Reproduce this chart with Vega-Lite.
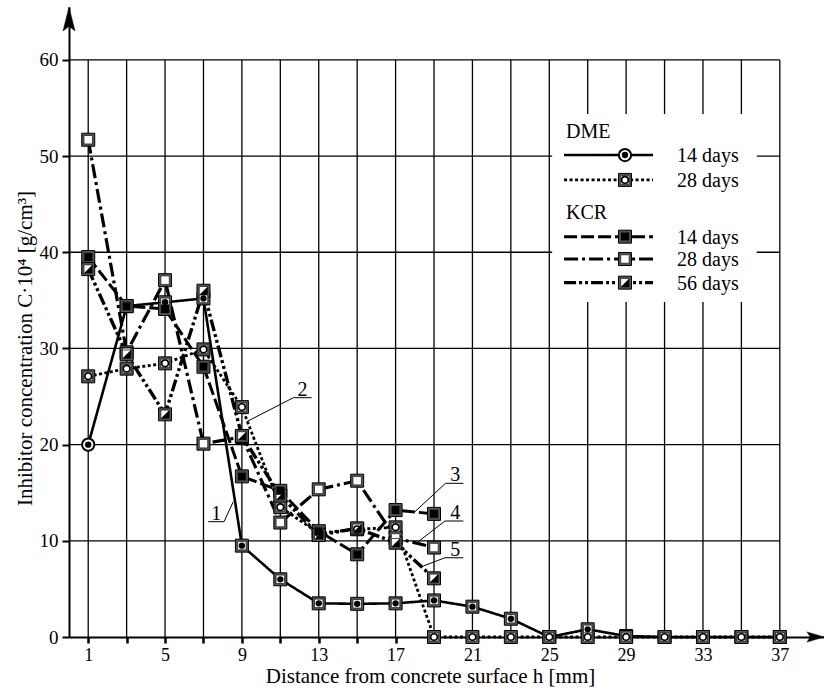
{
  "$schema": "https://vega.github.io/schema/vega-lite/v6.json",
  "width": 755,
  "height": 630,
  "autosize": {"type": "none"},
  "padding": {"left": 69, "top": 7, "right": 0, "bottom": 62},
  "background": "white",
  "config": {
    "font": "Liberation Serif",
    "view": {"stroke": null},
    "text": {"font": "Liberation Serif", "color": "black"}
  },
  "datasets": {
    "pts": [
      {"s": "DME14", "h": 1, "c": 20}, {"s": "DME14", "h": 3, "c": 34.4}, {"s": "DME14", "h": 5, "c": 34.8}, {"s": "DME14", "h": 7, "c": 35.2},
      {"s": "DME14", "h": 9, "c": 9.5}, {"s": "DME14", "h": 11, "c": 6.0}, {"s": "DME14", "h": 13, "c": 3.5}, {"s": "DME14", "h": 15, "c": 3.45},
      {"s": "DME14", "h": 17, "c": 3.5}, {"s": "DME14", "h": 19, "c": 3.8}, {"s": "DME14", "h": 21, "c": 3.15}, {"s": "DME14", "h": 23, "c": 1.9},
      {"s": "DME14", "h": 25, "c": 0}, {"s": "DME14", "h": 27, "c": 0.8}, {"s": "DME14", "h": 29, "c": 0.1}, {"s": "DME14", "h": 31, "c": 0},
      {"s": "DME14", "h": 33, "c": 0}, {"s": "DME14", "h": 35, "c": 0}, {"s": "DME14", "h": 37, "c": 0},
      {"s": "DME28", "h": 1, "c": 27.1}, {"s": "DME28", "h": 3, "c": 27.9}, {"s": "DME28", "h": 5, "c": 28.45}, {"s": "DME28", "h": 7, "c": 29.9},
      {"s": "DME28", "h": 9, "c": 23.9}, {"s": "DME28", "h": 11, "c": 13.5}, {"s": "DME28", "h": 13, "c": 10.8}, {"s": "DME28", "h": 15, "c": 11.2},
      {"s": "DME28", "h": 17, "c": 11.4}, {"s": "DME28", "h": 19, "c": 0}, {"s": "DME28", "h": 21, "c": 0}, {"s": "DME28", "h": 23, "c": 0},
      {"s": "DME28", "h": 25, "c": 0}, {"s": "DME28", "h": 27, "c": 0}, {"s": "DME28", "h": 29, "c": 0}, {"s": "DME28", "h": 31, "c": 0},
      {"s": "DME28", "h": 33, "c": 0}, {"s": "DME28", "h": 35, "c": 0}, {"s": "DME28", "h": 37, "c": 0},
      {"s": "KCR14", "h": 1, "c": 39.5}, {"s": "KCR14", "h": 3, "c": 34.4}, {"s": "KCR14", "h": 5, "c": 34.1}, {"s": "KCR14", "h": 7, "c": 28.1},
      {"s": "KCR14", "h": 9, "c": 16.7}, {"s": "KCR14", "h": 11, "c": 15.2}, {"s": "KCR14", "h": 13, "c": 11.0}, {"s": "KCR14", "h": 15, "c": 8.6},
      {"s": "KCR14", "h": 17, "c": 13.2}, {"s": "KCR14", "h": 19, "c": 12.8},
      {"s": "KCR28", "h": 1, "c": 51.7}, {"s": "KCR28", "h": 3, "c": 29.6}, {"s": "KCR28", "h": 5, "c": 37.1}, {"s": "KCR28", "h": 7, "c": 20.1},
      {"s": "KCR28", "h": 9, "c": 20.8}, {"s": "KCR28", "h": 11, "c": 11.9}, {"s": "KCR28", "h": 13, "c": 15.35}, {"s": "KCR28", "h": 15, "c": 16.25},
      {"s": "KCR28", "h": 17, "c": 10.3}, {"s": "KCR28", "h": 19, "c": 9.3},
      {"s": "KCR56", "h": 1, "c": 38.25}, {"s": "KCR56", "h": 3, "c": 29.4}, {"s": "KCR56", "h": 5, "c": 23.15}, {"s": "KCR56", "h": 7, "c": 36.0},
      {"s": "KCR56", "h": 9, "c": 20.9}, {"s": "KCR56", "h": 11, "c": 14.7}, {"s": "KCR56", "h": 13, "c": 10.6}, {"s": "KCR56", "h": 15, "c": 11.3},
      {"s": "KCR56", "h": 17, "c": 9.8}, {"s": "KCR56", "h": 19, "c": 6.1}
    ],
    "vgrid": [{"h": 1}, {"h": 3}, {"h": 5}, {"h": 7}, {"h": 9}, {"h": 11}, {"h": 13}, {"h": 15}, {"h": 17}, {"h": 19}, {"h": 21}, {"h": 23}, {"h": 25}, {"h": 27}, {"h": 29}, {"h": 31}, {"h": 33}, {"h": 35}, {"h": 37}],
    "hgrid": [{"c": 10}, {"c": 20}, {"c": 30}, {"c": 40}, {"c": 50}, {"c": 60}],
    "legend": [
      {"s": "DME14", "label": "14 days", "ly": 50.11},
      {"s": "DME28", "label": "28 days", "ly": 47.52},
      {"s": "KCR14", "label": "14 days", "ly": 41.62},
      {"s": "KCR28", "label": "28 days", "ly": 39.3},
      {"s": "KCR56", "label": "56 days", "ly": 36.84}
    ],
    "heads": [{"t": "DME", "ly": 52.6}, {"t": "KCR", "ly": 44.22}],
    "callouts": [
      {"n": "1", "x1": 7.25, "x2": 8.07, "tx": 7.66, "y": 11.99, "ax": 8.07, "ex": 8.55, "ey": 14.07},
      {"n": "2", "x1": 11.68, "x2": 12.63, "tx": 12.15, "y": 24.88, "ax": 11.68, "ex": 9.25, "ey": 22.39},
      {"n": "3", "x1": 19.6, "x2": 20.53, "tx": 20.1, "y": 15.98, "ax": 19.6, "ex": 18.01, "ey": 13.03},
      {"n": "4", "x1": 19.57, "x2": 20.53, "tx": 20.1, "y": 12.06, "ax": 19.57, "ex": 18.18, "ey": 9.91},
      {"n": "5", "x1": 19.57, "x2": 20.53, "tx": 20.1, "y": 8.24, "ax": 19.57, "ex": 18.44, "ey": 7.38}
    ]
  },
  "layer": [
    {
      "data": {"name": "vgrid"},
      "mark": {"type": "rule", "stroke": "#000", "strokeWidth": 1.3},
      "encoding": {
        "x": {"field": "h", "type": "quantitative", "scale": {"domain": [0, 39.3], "nice": false, "zero": false},
          "axis": {
            "values": [1, 3, 5, 7, 9, 11, 13, 15, 17, 19, 21, 23, 25, 27, 29, 31, 33, 35, 37],
            "labelExpr": "(datum.value - 1) % 4 == 0 ? datum.label : ''",
            "grid": false, "domainColor": "black", "domainWidth": 2, "tickColor": "black", "tickWidth": 2.5, "tickSize": 6,
            "labelFontSize": 18, "labelColor": "black", "labelPadding": 3, "labelFlush": false, "labelOverlap": false,
            "title": "Distance from concrete surface h [mm]", "titleFontSize": 21, "titleFontWeight": "normal", "titleColor": "black",
            "titleX": 361, "titleY": 45, "titleAlign": "center", "titleBaseline": "alphabetic"
          }},
        "y": {"datum": 0, "type": "quantitative", "scale": {"domain": [0, 65.5], "nice": false},
          "axis": {
            "values": [0, 10, 20, 30, 40, 50, 60],
            "grid": false, "domainColor": "black", "domainWidth": 2, "tickColor": "black", "tickWidth": 2, "tickSize": 7,
            "labelFontSize": 19, "labelColor": "black", "labelPadding": 4,
            "title": "Inhibitor concentration C·10⁴ [g/cm³]", "titleFontSize": 21, "titleFontWeight": "normal", "titleColor": "black",
            "titleAngle": 270, "titleX": -38, "titleY": 341, "titleAlign": "center", "titleBaseline": "alphabetic"
          }},
        "y2": {"datum": 60}
      }
    },
    {
      "data": {"name": "hgrid"},
      "mark": {"type": "rule", "stroke": "#000", "strokeWidth": 1.3},
      "encoding": {
        "y": {"field": "c", "type": "quantitative"},
        "x": {"datum": 0, "type": "quantitative"},
        "x2": {"datum": 37}
      }
    },
    {
      "data": {"values": [{}]},
      "mark": {"type": "rect", "fill": "white"},
      "encoding": {
        "x": {"datum": 25.15, "type": "quantitative"},
        "x2": {"datum": 35.8},
        "y": {"datum": 34.83, "type": "quantitative"},
        "y2": {"datum": 54.38}
      }
    },
    {
      "data": {"values": [{}]},
      "mark": {"type": "point", "shape": "M 0 0 L -2 -0.6 L -1.6 0 L -2 0.6 Z", "filled": true, "fill": "black", "stroke": "black", "strokeWidth": 0.5, "size": 289, "opacity": 1},
      "encoding": {
        "x": {"datum": 39.3, "type": "quantitative"},
        "y": {"datum": 0, "type": "quantitative"}
      }
    },
    {
      "data": {"values": [{}]},
      "mark": {"type": "point", "shape": "M 0 0 L -0.5 2 L 0 1.6 L 0.5 2 Z", "filled": true, "fill": "black", "stroke": "black", "strokeWidth": 0.5, "size": 576, "opacity": 1},
      "encoding": {
        "x": {"datum": 0, "type": "quantitative"},
        "y": {"datum": 65.5, "type": "quantitative"}
      }
    },
    {
      "data": {"name": "pts"},
      "mark": {"type": "line", "color": "black", "strokeCap": "butt"},
      "encoding": {
        "x": {"field": "h", "type": "quantitative"},
        "y": {"field": "c", "type": "quantitative"},
        "detail": {"field": "s", "type": "nominal"},
        "strokeDash": {"field": "s", "type": "nominal", "legend": null,
          "scale": {"domain": ["DME14", "DME28", "KCR14", "KCR28", "KCR56"], "range": [[1, 0], [3, 2.5], [13, 4], [14, 4, 3, 4], [12, 3, 3, 3, 3, 3]]}},
        "strokeWidth": {"field": "s", "type": "ordinal", "legend": null,
          "scale": {"domain": ["DME14", "DME28", "KCR14", "KCR28", "KCR56"], "range": [2.6, 3.4, 2.8, 2.8, 2.8]}}
      }
    },
    {
      "data": {"name": "pts"},
      "encoding": {
        "x": {"field": "h", "type": "quantitative"},
        "y": {"field": "c", "type": "quantitative"}
      },
      "layer": [
        {"transform": [{"filter": "!(datum.s == 'DME14' && datum.h == 1)"}],
          "mark": {"type": "point", "shape": "square", "filled": true, "fill": "#555", "stroke": "black", "strokeWidth": 1, "size": 169, "opacity": 1}},
        {"transform": [{"filter": "!(datum.s == 'DME14' && datum.h == 1)"}],
          "mark": {"type": "point", "shape": "square", "filled": true, "fill": "white", "stroke": "#222", "strokeWidth": 0.8, "size": 72, "opacity": 1}},
        {"transform": [{"filter": "datum.s == 'DME14' && datum.h == 1"}],
          "mark": {"type": "point", "shape": "circle", "filled": true, "fill": "white", "stroke": "black", "strokeWidth": 2, "size": 150, "opacity": 1}},
        {"transform": [{"filter": "datum.s == 'DME14'"}],
          "mark": {"type": "point", "shape": "circle", "filled": true, "fill": "black", "size": 40, "opacity": 1}},
        {"transform": [{"filter": "datum.s == 'DME28'"}],
          "mark": {"type": "point", "shape": "circle", "filled": true, "fill": "white", "stroke": "black", "strokeWidth": 1.6, "size": 44, "opacity": 1}},
        {"transform": [{"filter": "datum.s == 'KCR14'"}],
          "mark": {"type": "point", "shape": "square", "filled": true, "fill": "black", "size": 64, "opacity": 1}},
        {"transform": [{"filter": "datum.s == 'KCR56'"}],
          "mark": {"type": "point", "shape": "M 1 -1 L 1 1 L -1 1 Z", "filled": true, "fill": "black", "size": 72, "opacity": 1}}
      ]
    },
    {
      "data": {"name": "legend"},
      "mark": {"type": "rule", "color": "black", "strokeCap": "butt"},
      "encoding": {
        "x": {"datum": 25.77, "type": "quantitative"},
        "x2": {"datum": 30.4},
        "y": {"field": "ly", "type": "quantitative"},
        "strokeDash": {"field": "s", "type": "nominal", "legend": null},
        "strokeWidth": {"field": "s", "type": "ordinal", "legend": null}
      }
    },
    {
      "data": {"name": "legend"},
      "encoding": {
        "x": {"datum": 28.94, "type": "quantitative"},
        "y": {"field": "ly", "type": "quantitative"}
      },
      "layer": [
        {"transform": [{"filter": "datum.s != 'DME14'"}],
          "mark": {"type": "point", "shape": "square", "filled": true, "fill": "#555", "stroke": "black", "strokeWidth": 1, "size": 169, "opacity": 1}},
        {"transform": [{"filter": "datum.s != 'DME14'"}],
          "mark": {"type": "point", "shape": "square", "filled": true, "fill": "white", "stroke": "#222", "strokeWidth": 0.8, "size": 72, "opacity": 1}},
        {"transform": [{"filter": "datum.s == 'DME14'"}],
          "mark": {"type": "point", "shape": "circle", "filled": true, "fill": "white", "stroke": "black", "strokeWidth": 2, "size": 150, "opacity": 1}},
        {"transform": [{"filter": "datum.s == 'DME14'"}],
          "mark": {"type": "point", "shape": "circle", "filled": true, "fill": "black", "size": 40, "opacity": 1}},
        {"transform": [{"filter": "datum.s == 'DME28'"}],
          "mark": {"type": "point", "shape": "circle", "filled": true, "fill": "white", "stroke": "black", "strokeWidth": 1.6, "size": 44, "opacity": 1}},
        {"transform": [{"filter": "datum.s == 'KCR14'"}],
          "mark": {"type": "point", "shape": "square", "filled": true, "fill": "black", "size": 64, "opacity": 1}},
        {"transform": [{"filter": "datum.s == 'KCR56'"}],
          "mark": {"type": "point", "shape": "M 1 -1 L 1 1 L -1 1 Z", "filled": true, "fill": "black", "size": 72, "opacity": 1}}
      ]
    },
    {
      "data": {"name": "legend"},
      "mark": {"type": "text", "align": "left", "baseline": "middle", "fontSize": 20, "dy": 1},
      "encoding": {
        "x": {"datum": 31.65, "type": "quantitative"},
        "y": {"field": "ly", "type": "quantitative"},
        "text": {"field": "label"}
      }
    },
    {
      "data": {"name": "heads"},
      "mark": {"type": "text", "align": "left", "baseline": "middle", "fontSize": 20, "dy": 1},
      "encoding": {
        "x": {"datum": 25.87, "type": "quantitative"},
        "y": {"field": "ly", "type": "quantitative"},
        "text": {"field": "t"}
      }
    },
    {
      "data": {"name": "callouts"},
      "mark": {"type": "rule", "color": "black", "strokeWidth": 1},
      "encoding": {
        "x": {"field": "x1", "type": "quantitative"},
        "x2": {"field": "x2"},
        "y": {"field": "y", "type": "quantitative"}
      }
    },
    {
      "data": {"name": "callouts"},
      "mark": {"type": "rule", "color": "black", "strokeWidth": 1},
      "encoding": {
        "x": {"field": "ax", "type": "quantitative"},
        "y": {"field": "y", "type": "quantitative"},
        "x2": {"field": "ex"},
        "y2": {"field": "ey"}
      }
    },
    {
      "data": {"name": "callouts"},
      "mark": {"type": "text", "align": "center", "baseline": "alphabetic", "fontSize": 20, "dy": -2},
      "encoding": {
        "x": {"field": "tx", "type": "quantitative"},
        "y": {"field": "y", "type": "quantitative"},
        "text": {"field": "n"}
      }
    }
  ]
}
